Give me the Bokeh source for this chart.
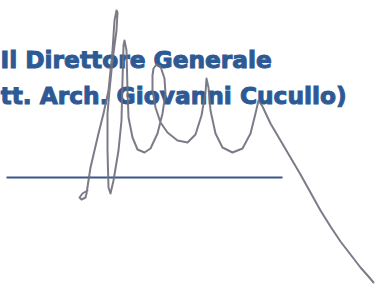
from bokeh.plotting import figure
from bokeh.models import Range1d, ColumnDataSource
from bokeh.core.properties import value
from bokeh.embed import file_html
from bokeh.resources import INLINE

# Text lines (position in page pixel coordinates)
title_lines = ["Il Direttore Generale", "tt. Arch. Giovanni Cucullo)"]
title_x = [0, 0]
title_y = [59, 94.5]

# Underline for the signature
rule_x = [6, 282]
rule_y = [177, 177]

# Signature stroke (page pixel coordinates)
sig_x = [87, 82, 79, 81, 85, 86, 90, 98, 103, 108, 112, 114, 116,
         117, 116, 112, 109, 107, 107, 108, 110,
         113, 118, 121, 122, 123, 124, 126, 127, 128, 132, 137, 144,
         150, 157, 162, 165, 164, 160, 156, 153, 152, 152, 155, 160, 167, 177, 187,
         195, 201, 205, 206, 208, 210, 215, 222, 232, 242, 250, 255, 258,
         262, 270, 280, 290, 300, 310, 320, 330, 340, 350, 360, 368, 373]
sig_y = [190, 193, 197, 199, 197, 193, 167, 133, 113, 90, 50, 20, 10,
         12, 30, 60, 90, 113, 150, 187, 193,
         180, 150, 120, 80, 45, 40, 50, 90, 117, 137, 149, 152,
         148, 133, 113, 93, 78, 66, 64, 68, 75, 90, 107, 122, 132, 140, 142,
         134, 115, 92, 78, 87, 110, 133, 147, 152, 148, 133, 113, 100,
         106, 123, 140, 157, 174, 192, 210, 226, 241, 254, 267, 276, 282]

W, H = 382, 284
p = figure(width=W, height=H, output_backend="svg", toolbar_location=None,
           x_range=Range1d(0, W), y_range=Range1d(H, 0),
           min_border=0, min_border_left=0, min_border_right=0,
           min_border_top=0, min_border_bottom=0)
p.axis.visible = False
p.grid.visible = False
p.outline_line_color = None
p.background_fill_color = "white"
p.border_fill_color = "white"

src_t = ColumnDataSource(dict(x=title_x, y=title_y, t=title_lines))
p.text(x="x", y="y", text="t", source=src_t, text_font=value("DejaVu Sans"),
       text_font_style="bold", text_font_size="23.3px", text_color="#2d5a95",
       text_outline_color="#2d5a95",
       text_align="left", text_baseline="alphabetic")

p.line(rule_x, rule_y, line_color="#3a5689", line_width=2)

p.line(sig_x, sig_y, line_color="#6e6e7c", line_width=2, line_alpha=0.9,
       line_join="round", line_cap="round")

open("out.html", "w").write(file_html(p, INLINE))
